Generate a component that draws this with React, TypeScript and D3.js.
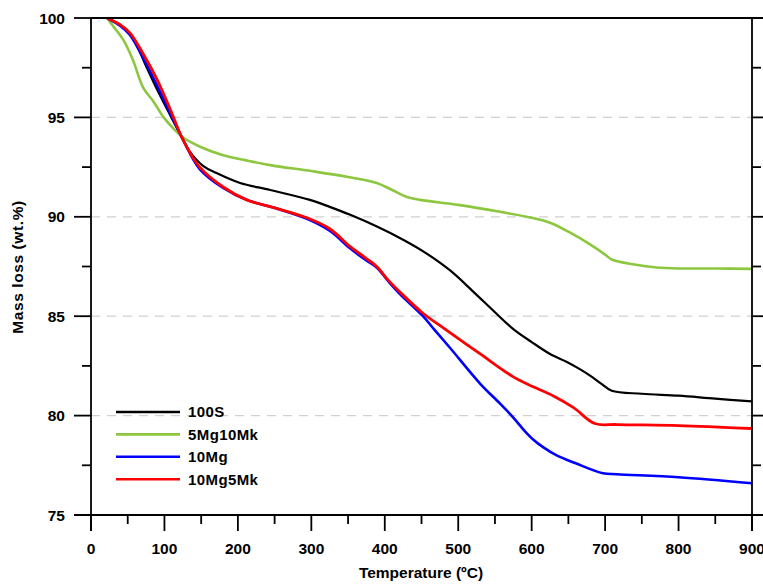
import React from "react";
import * as d3 from "d3";

// Thermogravimetric curves: temperature (°C) vs remaining mass (wt.%)
const seriesNames = ["100S", "5Mg10Mk", "10Mg", "10Mg5Mk"];
const seriesColors = ["#000000", "#8dc63f", "#0000ff", "#ff0000"];

const s100S: [number, number][] = [
  [22, 100], [40, 99.65], [53, 99.2], [65, 98.4], [76, 97.5], [90, 96.4], [108, 95.1],
  [125, 93.9], [135, 93.25], [153, 92.55], [171, 92.2], [203, 91.7], [244, 91.35],
  [298, 90.85], [325, 90.5], [353, 90.1], [390, 89.5], [425, 88.85], [455, 88.2],
  [489, 87.3], [520, 86.25], [550, 85.2], [575, 84.35], [600, 83.7], [625, 83.1],
  [648, 82.7], [665, 82.35], [680, 82.0], [695, 81.6], [709, 81.25],
  [750, 81.1], [800, 81.0], [850, 80.85], [900, 80.72],
];

const s5Mg10Mk: [number, number][] = [
  [22, 100], [30, 99.6], [44, 98.9], [57, 97.9], [71, 96.5], [85, 95.8], [99, 95.0],
  [112, 94.45], [125, 94.0], [150, 93.5], [180, 93.1], [210, 92.85], [244, 92.6],
  [300, 92.3], [350, 92.0], [389, 91.7], [410, 91.35], [430, 91.0], [448, 90.85],
  [500, 90.6], [557, 90.25], [600, 89.95], [625, 89.7], [650, 89.25], [680, 88.6],
  [700, 88.1], [709, 87.85], [740, 87.6], [770, 87.45], [800, 87.4], [850, 87.4],
  [900, 87.38],
];

const s10Mg: [number, number][] = [
  [22, 100], [40, 99.6], [53, 99.15], [71, 98.0], [90, 96.6], [108, 95.2], [125, 93.9],
  [148, 92.4], [180, 91.45], [212, 90.85], [250, 90.45], [294, 89.9], [325, 89.3],
  [353, 88.4], [375, 87.8], [389, 87.45], [405, 86.75], [421, 86.1], [452, 85.0],
  [468, 84.3], [489, 83.4], [530, 81.6], [557, 80.6], [575, 79.9], [590, 79.25],
  [602, 78.8], [616, 78.4], [634, 78.0], [660, 77.6], [697, 77.1],
  [716, 77.05], [800, 76.9], [900, 76.6],
];

const s10Mg5Mk: [number, number][] = [
  [22, 100], [40, 99.65], [53, 99.25], [71, 98.2], [90, 96.9], [108, 95.4], [125, 93.9],
  [148, 92.5], [180, 91.5], [212, 90.85], [250, 90.45], [294, 89.95], [325, 89.4],
  [353, 88.5], [375, 87.9], [389, 87.5], [405, 86.8], [421, 86.2], [452, 85.15],
  [484, 84.3], [530, 83.1], [575, 81.95], [602, 81.45], [629, 81.0], [657, 80.4],
  [686, 79.6], [716, 79.55], [800, 79.5], [900, 79.35],
];

const seriesData = [s100S, s5Mg10Mk, s10Mg, s10Mg5Mk];
const seriesWidths = [2.2, 2.6, 2.6, 2.8];

const xTicks = [0, 100, 200, 300, 400, 500, 600, 700, 800, 900];
const xMinorTicks = [50, 150, 250, 350, 450, 550, 650, 750, 850];
const yTicks = [75, 80, 85, 90, 95, 100];
const yMinorTicks = [77.5, 82.5, 87.5, 92.5, 97.5];
const gridValues = [80, 85, 90, 95];

const W = 763;
const H = 585;
const left = 91;
const right = 752;
const top = 18;
const bottom = 515;

const font = "'Liberation Sans', Arial, sans-serif";

export default function App() {
  const x = d3.scaleLinear().domain([0, 900]).range([left, right]);
  const y = d3.scaleLinear().domain([75, 100]).range([bottom, top]);
  const line = d3
    .line<[number, number]>()
    .x((d) => x(d[0]))
    .y((d) => y(d[1]))
    .curve(d3.curveCatmullRom.alpha(0.5));

  return (
    <svg
      width={W}
      height={H}
      style={{ position: "absolute", left: 0, top: 0, display: "block", background: "#fff" }}
    >
      <rect x={0} y={0} width={W} height={H} fill="#fff" />
      {/* dashed grid */}
      {gridValues.map((v) => (
        <line
          key={"g" + v}
          x1={left}
          x2={right}
          y1={y(v)}
          y2={y(v)}
          stroke="#d0d0d0"
          strokeWidth={1.3}
          strokeDasharray="9,7"
        />
      ))}

      {/* curves */}
      {seriesData.map((d, i) => (
        <path
          key={seriesNames[i]}
          d={line(d) || ""}
          fill="none"
          stroke={seriesColors[i]}
          strokeWidth={seriesWidths[i]}
          strokeLinejoin="round"
        />
      ))}

      {/* frame */}
      <g stroke="#000" strokeWidth={1.8} fill="none">
        <line x1={left} x2={left} y1={top} y2={bottom + 16} />
        <line x1={left - 17} x2={W} y1={bottom} y2={bottom} />
        <line x1={left} x2={W} y1={top} y2={top} />
        <line x1={right} x2={right} y1={top} y2={bottom + 16} />
        {yTicks.map((v) => (
          <g key={"yt" + v}>
            <line x1={left - 17} x2={left} y1={y(v)} y2={y(v)} />
            <line x1={right} x2={W} y1={y(v)} y2={y(v)} />
          </g>
        ))}
        {yMinorTicks.map((v) => (
          <g key={"ym" + v}>
            <line x1={left - 9} x2={left} y1={y(v)} y2={y(v)} />
            <line x1={right} x2={right + 9} y1={y(v)} y2={y(v)} />
          </g>
        ))}
        {xTicks.map((v) => (
          <line key={"xt" + v} x1={x(v)} x2={x(v)} y1={bottom} y2={bottom + 16} />
        ))}
        {xMinorTicks.map((v) => (
          <line key={"xm" + v} x1={x(v)} x2={x(v)} y1={bottom} y2={bottom + 9} />
        ))}
      </g>

      {/* tick labels */}
      <g fontFamily={font} fontWeight="bold" fontSize={15.5} fill="#000">
        {yTicks.map((v) => (
          <text key={"yl" + v} x={left - 26} y={y(v)} dy="0.36em" textAnchor="end">
            {v}
          </text>
        ))}
        {xTicks.map((v) => (
          <text key={"xl" + v} x={x(v)} y={bottom + 39} textAnchor="middle">
            {v}
          </text>
        ))}
      </g>

      {/* axis titles */}
      <text
        x={421}
        y={578}
        textAnchor="middle"
        fontFamily={font}
        fontWeight="bold"
        fontSize={15.5}
      >
        Temperature (ºC)
      </text>
      <text
        transform="translate(23,267) rotate(-90)"
        textAnchor="middle"
        fontFamily={font}
        fontWeight="bold"
        fontSize={15.5}
        letterSpacing={0.6}
      >
        Mass loss (wt.%)
      </text>

      {/* legend */}
      {seriesNames.map((name, i) => {
        const ly = 412 + i * 22.4;
        return (
          <g key={"lg" + name}>
            <line x1={116} x2={180} y1={ly} y2={ly} stroke={seriesColors[i]} strokeWidth={2.6} />
            <text
              x={188}
              y={ly}
              dy="0.36em"
              fontFamily={font}
              fontWeight="bold"
              fontSize={15}
              letterSpacing={0.4}
            >
              {name}
            </text>
          </g>
        );
      })}
    </svg>
  );
}
